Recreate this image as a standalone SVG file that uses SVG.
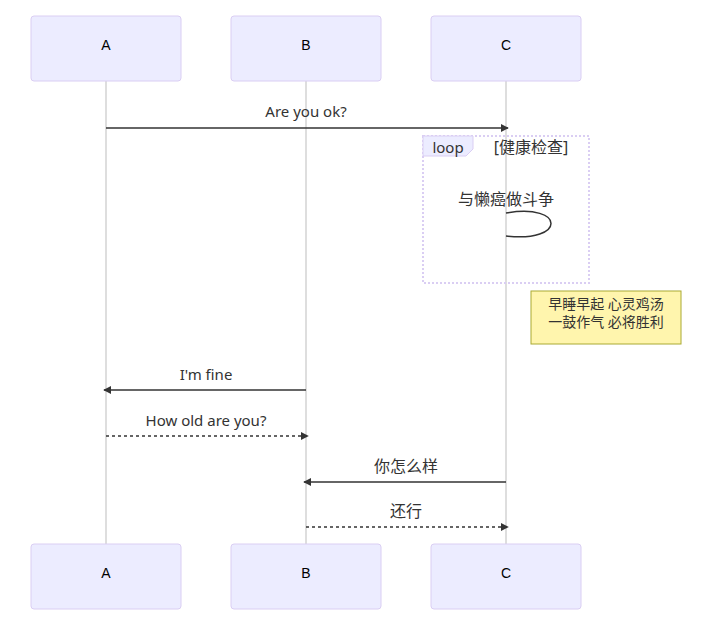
<svg xmlns="http://www.w3.org/2000/svg" width="715" height="632" viewBox="0 0 715 632">
<style>
.actor{fill:#ECECFF;stroke:#dacef3;stroke-width:1}
.atext{font-family:"Liberation Sans",Arial,sans-serif;font-size:14px;fill:#000;text-anchor:middle;dominant-baseline:central}
.life{stroke:#d3d3d3;stroke-width:1.5}
.msg{stroke:#333;stroke-width:1.5;fill:none}
.dot{stroke-dasharray:3,3}
.mtext{font-family:"Noto Sans","Noto Sans CJK SC",sans-serif;font-size:15px;fill:#333;text-anchor:middle}
.cjk{font-size:16px}
.loopline{fill:none;stroke:#dacef3;stroke-width:2;stroke-dasharray:2,2}
.note{fill:#fff5ad;stroke:#aaaa33;stroke-width:1}
.ntext{font-family:"Noto Sans","Noto Sans CJK SC",sans-serif;font-size:14px;fill:#333;text-anchor:middle}
</style>
<defs>
<marker id="arrow" viewBox="0 0 10 10" refX="9" refY="5" markerWidth="8" markerHeight="8" markerUnits="userSpaceOnUse" orient="auto-start-reverse">
<path d="M0,0 L10,5 L0,10 z" fill="#333"/>
</marker>
</defs>
<g id="lifelines">
<line class="life" x1="106" y1="81" x2="106" y2="544"/>
<line class="life" x1="306" y1="81" x2="306" y2="544"/>
<line class="life" x1="506" y1="81" x2="506" y2="544"/>
</g>
<g id="actorA-top"><rect class="actor" x="31" y="16" width="150" height="65" rx="3"/><text class="atext" x="106" y="45">A</text></g>
<g id="actorB-top"><rect class="actor" x="231" y="16" width="150" height="65" rx="3"/><text class="atext" x="306" y="45">B</text></g>
<g id="actorC-top"><rect class="actor" x="431" y="16" width="150" height="65" rx="3"/><text class="atext" x="506" y="45">C</text></g>
<g id="actorA-bottom"><rect class="actor" x="31" y="544" width="150" height="65" rx="3"/><text class="atext" x="106" y="573">A</text></g>
<g id="actorB-bottom"><rect class="actor" x="231" y="544" width="150" height="65" rx="3"/><text class="atext" x="306" y="573">B</text></g>
<g id="actorC-bottom"><rect class="actor" x="431" y="544" width="150" height="65" rx="3"/><text class="atext" x="506" y="573">C</text></g>
<g id="loop">
<rect class="loopline" x="423" y="136" width="166" height="147"/>
<polygon points="423,136 473,136 473,149 466,156 423,156" fill="#ECECFF" stroke="#dacef3" stroke-width="1"/>
<text class="mtext" x="448" y="153" font-size="14">loop</text>
<text class="mtext cjk" x="531" y="153">[健康检查]</text>
</g>
<g id="note">
<rect class="note" x="531" y="291" width="150" height="53"/>
<text class="ntext" x="606" y="309">早睡早起 心灵鸡汤</text>
<text class="ntext" x="606" y="327">一鼓作气 必将胜利</text>
</g>
<g id="connectors">
<line class="msg" x1="106" y1="128" x2="508" y2="128" marker-end="url(#arrow)"/>
<text class="mtext" x="306" y="117">Are you ok?</text>
<path class="msg" d="M506,213 C566,203 566,243 506,236" />
<text class="mtext cjk" x="506" y="205">与懒癌做斗争</text>
<line class="msg" x1="306" y1="390" x2="104" y2="390" marker-end="url(#arrow)"/>
<text class="mtext" x="206" y="380">I'm fine</text>
<line class="msg dot" x1="106" y1="436" x2="308" y2="436" marker-end="url(#arrow)"/>
<text class="mtext" x="206" y="426">How old are you?</text>
<line class="msg" x1="506" y1="482" x2="304" y2="482" marker-end="url(#arrow)"/>
<text class="mtext cjk" x="406" y="472">你怎么样</text>
<line class="msg dot" x1="306" y1="527" x2="508" y2="527" marker-end="url(#arrow)"/>
<text class="mtext cjk" x="406" y="517">还行</text>
</g>
</svg>
